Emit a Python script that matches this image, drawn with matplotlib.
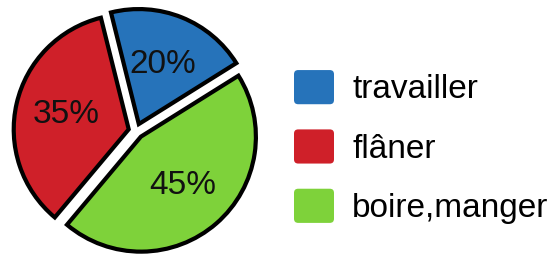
import matplotlib.pyplot as plt
from matplotlib.patches import FancyBboxPatch
from matplotlib.legend_handler import HandlerPatch


LABELS = ["travailler", "flâner", "boire,manger"]
VALUES = [20, 35, 45]
COLORS = ["#2673ba", "#cf2029", "#7ed23a"]


class HandlerRound(HandlerPatch):
    def create_artists(self, legend, orig_handle, xdescent, ydescent,
                       width, height, fontsize, trans):
        p = FancyBboxPatch((-xdescent, -ydescent), width, height,
                           boxstyle="round,pad=0,rounding_size=3",
                           facecolor=orig_handle.get_facecolor(),
                           edgecolor="none", transform=trans)
        return [p]


def main():
    plt.rcParams['font.family'] = ['Liberation Sans', 'DejaVu Sans']
    fig = plt.figure(figsize=(5.6, 2.58), dpi=100)
    W, H = 560, 258
    r = 115
    cx, cy = 136, 127
    half = 1.12 * r
    ax = fig.add_axes([(cx - half) / W, (cy - half) / H, 2 * half / W, 2 * half / H])

    wedges, texts, autotexts = ax.pie(
        VALUES, colors=COLORS, startangle=32, counterclock=True,
        explode=[0.065, 0.065, 0.065], autopct="%d%%", pctdistance=0.56,
        wedgeprops=dict(edgecolor="black", linewidth=3),
        textprops=dict(fontsize=24, color="#111111"))
    ax.set_xlim(-1.12, 1.12)
    ax.set_ylim(-1.12, 1.12)
    ax.set_aspect("equal")

    fig.legend(wedges, LABELS, loc="center left",
               bbox_to_anchor=(264 / W, 0.43), frameon=False,
               fontsize=24, handlelength=1.2, handleheight=1.2,
               handletextpad=0.55, labelspacing=0.72,
               handler_map={w: HandlerRound() for w in wedges})

    fig.savefig("out.png", dpi=100)


if __name__ == "__main__":
    main()
